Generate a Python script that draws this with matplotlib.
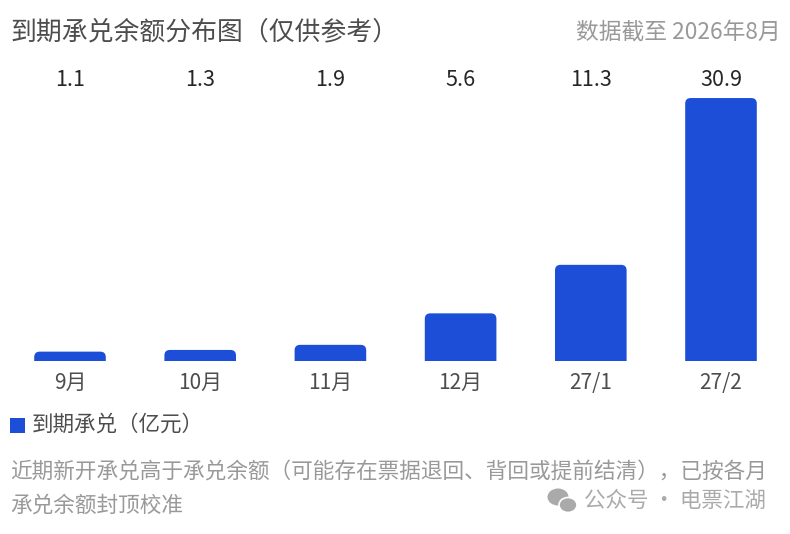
import matplotlib
matplotlib.use("Agg")
import matplotlib.pyplot as plt
from matplotlib.patches import PathPatch, Rectangle, Ellipse
from matplotlib.path import Path
from matplotlib.transforms import blended_transform_factory

plt.rcParams['font.family'] = ['Noto Sans CJK SC', 'DejaVu Sans']

categories = ["9月", "10月", "11月", "12月", "27/1", "27/2"]
values = [1.1, 1.3, 1.9, 5.6, 11.3, 30.9]
value_labels = ["1.1", "1.3", "1.9", "5.6", "11.3", "30.9"]
title = "到期承兑余额分布图（仅供参考）"
date_note = "数据截至 2026年8月"
legend_label = "到期承兑（亿元）"
footnote = ["近期新开承兑高于承兑余额（可能存在票据退回、背回或提前结清），已按各月",
            "承兑余额封顶校准"]
watermark = "公众号 · 电票江湖"

W, H = 790, 534
BAR = "#1c4ed8"
fig = plt.figure(figsize=(W / 100, H / 100), dpi=100)

def fx(px):
    return px / W

def fy(py):
    return (H - py) / H

px_per_x = 130.2
px_per_y = 8.51
ymax = 32.0
left_px = 70 - 0.5 * px_per_x
base_px = 361
ax = fig.add_axes([fx(left_px), fy(base_px), 6 * px_per_x / W, ymax * px_per_y / H])
ax.set_xlim(-0.5, 5.5)
ax.set_ylim(0, ymax)
ax.axis("off")

def top_rounded(x0, w, h, rx, ry):
    x1 = x0 + w
    verts = [(x0, 0), (x1, 0), (x1, h - ry), (x1, h), (x1 - rx, h),
             (x0 + rx, h), (x0, h), (x0, h - ry), (x0, 0)]
    codes = [Path.MOVETO, Path.LINETO, Path.LINETO, Path.CURVE3, Path.CURVE3,
             Path.LINETO, Path.CURVE3, Path.CURVE3, Path.CLOSEPOLY]
    return Path(verts, codes)

bw = 0.55
r_px = 5.5
for i, v in enumerate(values):
    h_px = v * px_per_y
    rp = min(r_px, h_px * 0.6)
    path = top_rounded(i - bw / 2, bw, v, rp / px_per_x, rp / px_per_y)
    ax.add_patch(PathPatch(path, facecolor=BAR, edgecolor="none"))

tr = blended_transform_factory(ax.transData, fig.transFigure)
for i, (c, lab) in enumerate(zip(categories, value_labels)):
    fig.text(i, fy(80), lab, transform=tr, ha="center", va="center",
             fontsize=15.5, color="#262626")
    fig.text(i, fy(383), c, transform=tr, ha="center", va="center",
             fontsize=15, color="#4d4d4d")

fig.text(fx(10), fy(32), title, ha="left", va="center", fontsize=18.6, color="#4d4d4d")
fig.text(fx(781), fy(32), date_note, ha="right", va="center", fontsize=16.4, color="#999999")

fig.patches.append(Rectangle((fx(10), fy(433)), fx(15), 15 / H, transform=fig.transFigure,
                             facecolor=BAR, edgecolor="none"))
fig.text(fx(32), fy(425), legend_label, ha="left", va="center", fontsize=15.5, color="#4d4d4d")

fig.text(fx(10), fy(472), footnote[0], ha="left", va="center", fontsize=15.6, color="#999999")
fig.text(fx(10), fy(506), footnote[1], ha="left", va="center", fontsize=15.6, color="#999999")

# watermark
g = "#aaaaaa"
fig.patches.append(Ellipse((fx(558), fy(497)), fx(21), 17 / H, transform=fig.transFigure,
                           facecolor=g, edgecolor="none"))
fig.patches.append(Ellipse((fx(568), fy(505)), fx(18), 15 / H, transform=fig.transFigure,
                           facecolor=g, edgecolor="white", linewidth=1.2))
fig.text(fx(766), fy(501), watermark, ha="right", va="center", fontsize=15.5, color="#aaaaaa")

fig.savefig("out.png", dpi=100, facecolor="white")
